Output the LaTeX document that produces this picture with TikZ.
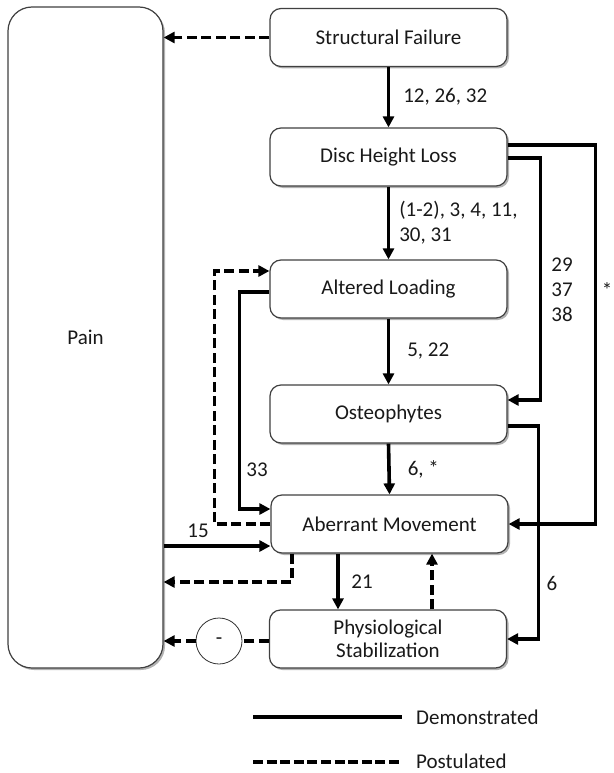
\documentclass[tikz,border=0pt]{standalone}
\usepackage{fontspec}
\setmainfont{Carlito}
\usetikzlibrary{arrows.meta,shadows,calc}
\begin{document}
\begin{tikzpicture}[x=1pt,y=-1pt,
  every node/.style={font=\fontsize{21}{25}\selectfont, text=black!90},
  box/.style={draw=black!75, line width=1.2pt, fill=white, rounded corners=11pt,
    minimum width=237pt, minimum height=58pt, inner sep=2pt, align=center,
    drop shadow={shadow xshift=2pt, shadow yshift=-2pt, opacity=0.3, fill=black}},
  painbox/.style={box, rounded corners=24pt, minimum width=155pt, minimum height=661pt},
  solidarrow/.style={line width=3.6pt, -{Triangle[length=11pt,width=11pt]}},
  dasharrow/.style={line width=3.6pt, dash pattern=on 10pt off 4.5pt, -{Triangle[length=11pt,width=11pt]}},
  dashline/.style={line width=3.6pt, dash pattern=on 10pt off 4.5pt},
  solidline/.style={line width=3.6pt},
  lbl/.style={inner sep=0pt}
]
\useasboundingbox (0,0) rectangle (613,773);

\node[painbox] (pain) at (85.5,337.5) {Pain};
\node[box] (sf) at (388.5,37.5) {Structural Failure};
\node[box] (dhl) at (388.5,157) {Disc Height Loss};
\node[box] (al) at (388.5,289) {Altered Loading};
\node[box] (os) at (388.5,414) {Osteophytes};
\node[box] (am) at (389.5,524) {Aberrant Movement};
\node[box] (ps) at (388,639) {Physiological\\[-2pt]Stabilization};
\node[draw=black!80, line width=0.8pt, circle, minimum size=46pt, inner sep=0pt, fill=white] (neg) at (219,641) {-};

\coordinate (y582) at (0,582);

% main vertical chain
\draw[solidarrow] (sf.south) -- (dhl.north)
  node[lbl, midway, right=13pt] (l1) {12, 26, 32};
\draw[solidarrow] (dhl.south) -- (al.north)
  node[lbl, midway, right=9pt, align=left] (l2) {(1-2), 3, 4, 11,\\30, 31};
\draw[solidarrow] (al.south) -- (os.north)
  node[lbl, midway, right=17pt] (l3) {5, 22};
\draw[solidarrow] (os.south) -- (am.north)
  node[lbl, midway, right=17pt] (l4) {6, *};

% structural failure -> pain
\draw[dasharrow] (sf.west) -- (sf.west -| pain.east);

% disc height loss -> aberrant movement (*)
\draw[solidarrow] ([yshift=12pt]dhl.east) -- ++(88,0) |- (am.east);
\node[lbl] (lstar) at (607,290) {*};

% disc height loss -> osteophytes
\draw[solidarrow] ([yshift=-1pt]dhl.east) -- ++(33,0) |- ([yshift=14pt]os.east);
\node[lbl, align=center] (l29) at (562,290) {29\\37\\38};

% osteophytes -> physiological stabilization
\draw[solidarrow] ([yshift=-12pt]os.east) -- ++(31,0) |- (ps.east);
\node[lbl] (l6) at (552,583) {6};

% altered loading -> aberrant movement (33)
\draw[solidarrow] ([yshift=-3pt]al.west) -- ++(-30,0) |- ([yshift=15pt]am.west);
\node[lbl] (l33) at (257,470) {33};

% aberrant movement -> altered loading (postulated)
\draw[dasharrow] (am.west) -- ++(-56,0) |- ([yshift=18pt]al.west);

% pain -> aberrant movement (15)
\draw[solidarrow] ([yshift=-22pt]am.west -| pain.east) -- ([yshift=-22pt]am.west);
\node[lbl] (l15) at (198,531) {15};

% aberrant movement -> pain (postulated)
\draw[dasharrow] ([xshift=-97.5pt]am.south) |- (pain.east |- y582);

% aberrant movement -> physiological stabilization (21)
\draw[solidarrow] ([xshift=-51.5pt]am.south) -- ([xshift=-50pt]ps.north);
\node[lbl] (l21) at (362,582) {21};

% physiological stabilization -> aberrant movement (postulated)
\draw[dasharrow] ([xshift=44pt]ps.north) -- ([xshift=42.5pt]am.south);

% physiological stabilization -> (-) -> pain
\draw[dashline] ([yshift=-2pt]ps.west) -- (neg);
\draw[dasharrow] (neg) -- (neg -| pain.east);

% legend
\coordinate (da) at (253,717);
\coordinate (db) at (402,717);
\coordinate (pa) at (253,762);
\coordinate (pb) at (402,762);
\draw[solidline] (da) -- (db);
\draw[line width=3.6pt, dash pattern=on 10pt off 3.6pt] (pa) -- (pb);
\node[lbl, anchor=west] (ldem) at (416,717) {Demonstrated};
\node[lbl, anchor=west] (lpos) at (416,761) {Postulated};
\end{tikzpicture}
\end{document}
